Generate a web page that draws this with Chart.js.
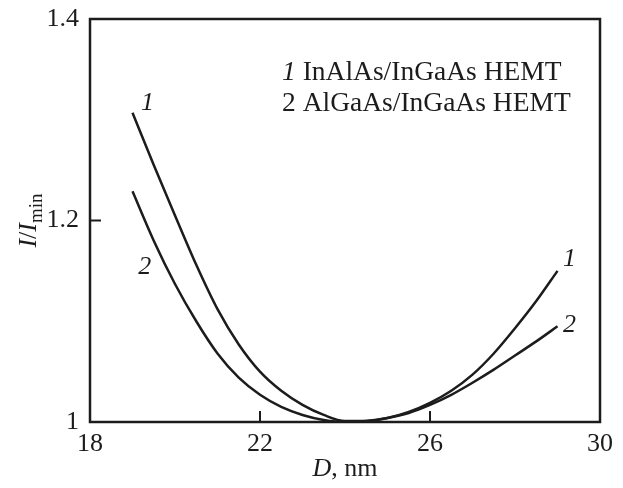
<!DOCTYPE html>
<html lang="en">
<head>
    <meta charset="UTF-8">
    <title>I/Imin vs D</title>
    <script src="https://cdn.jsdelivr.net/npm/chart.js"></script>
    <style>
        body { margin: 0; background: #ffffff; }
        #wrap { width: 623px; height: 488px; }
    </style>
</head>
<body>
    <div id="wrap"><canvas id="chart"></canvas></div>

    <script>
        // D, nm
        const dValues = [19, 19.5, 20, 20.5, 21, 21.5, 22, 22.5, 23, 23.5, 24, 24.5, 25, 25.5, 26, 26.5, 27, 27.5, 28, 28.5, 29];
        // 1 InAlAs/InGaAs HEMT
        const series1 = [1.307, 1.255, 1.205, 1.156, 1.112, 1.077, 1.050, 1.031, 1.017, 1.007, 1.001, 1.001, 1.004, 1.010, 1.019, 1.031, 1.047, 1.068, 1.093, 1.120, 1.150];
        // 2 AlGaAs/InGaAs HEMT
        const series2 = [1.229, 1.180, 1.137, 1.100, 1.068, 1.044, 1.027, 1.015, 1.007, 1.002, 1.000, 1.001, 1.004, 1.009, 1.017, 1.027, 1.039, 1.052, 1.066, 1.080, 1.095];
        const seriesNames = ['InAlAs/InGaAs HEMT', 'AlGaAs/InGaAs HEMT'];
        const xTicks = [18, 22, 26, 30];
        const yTicks = [1, 1.2, 1.4];

        const ink = '#1c1c1c';
        const serif = '"Liberation Serif", "DejaVu Serif", serif';

        const toPoints = ys => ys.map((y, i) => ({ x: dValues[i], y: y }));

        // frame, inward ticks, curve numbers, legend and axis titles
        const decor = {
            id: 'decor',
            afterDraw(chart) {
                const ctx = chart.ctx;
                const a = chart.chartArea;
                const xs = chart.scales.x, ys = chart.scales.y;
                ctx.save();
                ctx.strokeStyle = ink;
                ctx.lineWidth = 2.5;
                ctx.strokeRect(a.left, a.top, a.right - a.left, a.bottom - a.top);

                ctx.lineWidth = 2;
                ctx.beginPath();
                xTicks.slice(1, -1).forEach(v => {
                    const px = xs.getPixelForValue(v);
                    ctx.moveTo(px, a.bottom);
                    ctx.lineTo(px, a.bottom - 11);
                });
                yTicks.slice(1, -1).forEach(v => {
                    const py = ys.getPixelForValue(v);
                    ctx.moveTo(a.left, py);
                    ctx.lineTo(a.left + 11, py);
                });
                ctx.stroke();

                ctx.fillStyle = ink;
                ctx.textBaseline = 'middle';
                ctx.textAlign = 'center';
                ctx.font = 'italic 26px ' + serif;
                const tag = (txt, ds, idx, dx, dy) => {
                    const p = chart.getDatasetMeta(ds).data[idx];
                    ctx.fillText(txt, p.x + dx, p.y + dy);
                };
                const last = dValues.length - 1;
                tag('1', 0, 0, 15, -10);
                tag('2', 1, 1, -9, 27);
                tag('1', 0, last, 12, -12);
                tag('2', 1, last, 12, -1);

                // legend text
                ctx.textAlign = 'left';
                ctx.textBaseline = 'alphabetic';
                seriesNames.forEach((name, i) => {
                    const x0 = a.left + 192;
                    const y0 = a.top + 61 + i * 31;
                    ctx.font = (i === 0 ? 'italic ' : '') + '27.5px ' + serif;
                    const num = String(i + 1);
                    ctx.fillText(num, x0, y0);
                    const w = ctx.measureText(num + ' ').width;
                    ctx.font = '27.5px ' + serif;
                    ctx.fillText(name, x0 + w, y0);
                });

                // x title: D, nm
                ctx.font = 'italic 26px ' + serif;
                const dW = ctx.measureText('D').width;
                ctx.font = '26px ' + serif;
                const restW = ctx.measureText(', nm').width;
                const cx = (a.left + a.right) / 2;
                const sx = cx - (dW + restW) / 2;
                const by = 476;
                ctx.font = 'italic 26px ' + serif;
                ctx.fillText('D', sx, by);
                ctx.font = '26px ' + serif;
                ctx.fillText(', nm', sx + dW, by);

                // y title: I/Imin
                ctx.translate(36, (a.top + a.bottom) / 2);
                ctx.rotate(-Math.PI / 2);
                ctx.font = 'italic 26px ' + serif;
                const w1 = ctx.measureText('I').width;
                ctx.font = '26px ' + serif;
                const w2 = ctx.measureText('/').width;
                ctx.font = '19px ' + serif;
                const w3 = ctx.measureText('min').width;
                const total = w1 * 2 + w2 + w3;
                let tx = -total / 2;
                ctx.font = 'italic 26px ' + serif;
                ctx.fillText('I', tx, 0); tx += w1;
                ctx.font = '26px ' + serif;
                ctx.fillText('/', tx, 0); tx += w2;
                ctx.font = 'italic 26px ' + serif;
                ctx.fillText('I', tx, 0); tx += w1;
                ctx.font = '19px ' + serif;
                ctx.fillText('min', tx, 6);
                ctx.restore();
            }
        };

        const lineStyle = {
            borderColor: ink,
            borderWidth: 2.5,
            pointRadius: 0,
            fill: false,
            cubicInterpolationMode: 'monotone'
        };

        new Chart(document.getElementById('chart'), {
            type: 'line',
            data: {
                datasets: [
                    Object.assign({ label: seriesNames[0], data: toPoints(series1) }, lineStyle),
                    Object.assign({ label: seriesNames[1], data: toPoints(series2) }, lineStyle)
                ]
            },
            options: {
                responsive: true,
                maintainAspectRatio: false,
                animation: false,
                layout: { padding: { left: 0, top: 19, right: 23, bottom: 0 } },
                plugins: { legend: { display: false }, tooltip: { enabled: false } },
                scales: {
                    x: {
                        type: 'linear',
                        min: 18, max: 30,
                        afterBuildTicks: s => { s.ticks = xTicks.map(v => ({ value: v })); },
                        afterFit: s => { s.height = 66; },
                        grid: { display: false, drawTicks: false },
                        border: { display: false },
                        ticks: { color: ink, font: { family: serif, size: 26 }, padding: 7, maxRotation: 0 }
                    },
                    y: {
                        min: 1, max: 1.4,
                        afterBuildTicks: s => { s.ticks = yTicks.map(v => ({ value: v })); },
                        afterFit: s => { s.width = 90; s.paddingTop = 0; s.paddingBottom = 0; },
                        grid: { display: false, drawTicks: false },
                        border: { display: false },
                        ticks: {
                            color: ink, font: { family: serif, size: 26 }, padding: 11,
                            callback: v => (v === 1 ? '1' : v.toFixed(1))
                        }
                    }
                }
            },
            plugins: [decor]
        });
    </script>
</body>
</html>
